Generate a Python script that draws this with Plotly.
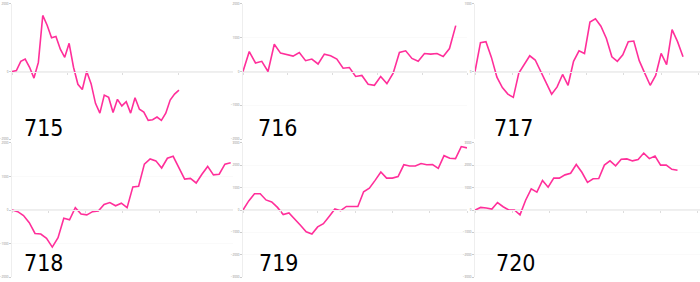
import plotly.graph_objects as go

W, H = 700, 282

# ---- data ----
labels = ["715", "716", "717", "718", "719", "720"]

s715 = [0, 30, 300, 370, 125, -195, 270, 1660, 1370, 1000, 1040, 660, 420, 835,
        126, -379, -534, 0, -359, -942, -1233, -699, -767, -1214, -825, -1020,
        -893, -1233, -777, -1117, -1204, -1447, -1427, -1350, -1447, -1233, -845,
        -670, -553]
s716 = [0, 592, 252, 301, 0, 806, 544, 495, 456, 563, 320, 369, 223, 515, 466,
        369, 97, 117, -146, -117, -379, -408, -146, -359, -49, 563, 612, 388,
        301, 534, 515, 534, 447, 680, 1359]
s717 = [0, 427, 442, 209, -83, -238, -335, -383, -24, 102, 233, 170, 5, -170,
        -335, -228, -44, -204, 150, 306, 267, 733, 782, 670, 490, 218, 150, 248,
        442, 451, 160, -24, -204, -58, 267, 102, 621, 442, 218]
s718 = [0, -49, -165, -379, -699, -718, -845, -1107, -825, -243, -291, 68, -117,
        -146, -49, -29, 165, 223, 126, 204, 68, 689, 709, 1369, 1525, 1466, 1253,
        1544, 1602, 1243, 922, 942, 806, 1068, 1301, 1049, 1068, 1369, 1408]
s719 = [0, 408, 728, 728, 451, 364, 117, -204, -131, -393, -684, -976, -1077,
        -757, -612, -291, 44, -29, 160, 160, 160, 815, 976, 1325, 1704, 1427,
        1427, 1500, 2024, 1966, 1966, 2082, 2024, 2038, 1864, 2432, 2315, 2301,
        2839, 2781]
s720 = [0, 116, 87, 44, 335, 146, 0, 0, -218, 437, 946, 801, 1325, 1019, 1427,
        1427, 1573, 1646, 2038, 1689, 1238, 1398, 1412, 2009, 2198, 1980, 2271,
        2286, 2198, 2257, 2548, 2300, 2417, 2009, 2009, 1820, 1776]
series = [s715, s716, s717, s718, s719, s720]

y_ticks = [[-2000, 0, 2000],
           [-2000, -1000, 0, 1000, 2000],
           [0, 1000],
           [-2000, -1000, 0, 1000, 2000],
           [-3000, -2000, -1000, 0, 1000, 2000, 3000],
           [-3000, -2000, -1000, 0, 1000, 2000, 3000]]

# ---- layout / style ----
y_half = [2000, 2000, 1000, 2000, 3000, 3000]
x_max = [50.3, 35.8, 41.1, 38.4, 39.0, 40.0]
x_dtick = [12.6, 7.16, 6.8, 6.42, 6.5, 6.6]

col_px = [(12, 233), (243, 467), (475, 700)]
row_px = [(2, 139), (143, 279)]
label_pos = [(22, 143), (256, 143), (492, 143), (22, 280), (257, 280), (494, 280)]

LINE = "#ff2f9a"

fig = go.Figure()
annotations = []
layout = {}
for i, ys in enumerate(series):
    r, c = divmod(i, 3)
    x0, x1 = col_px[c]
    top, bot = row_px[r]
    xd = [x0 / W, x1 / W]
    yd = [1 - bot / H, 1 - top / H]
    k = "" if i == 0 else str(i + 1)
    xs = list(range(len(ys)))
    fig.add_trace(go.Scatter(x=xs, y=ys, mode="lines",
                             line=dict(color=LINE, width=1.6),
                             xaxis="x" + k, yaxis="y" + k, showlegend=False,
                             hoverinfo="skip"))
    layout["xaxis" + k] = dict(domain=xd, range=[0, x_max[i]], anchor="free",
                               position=(yd[0] + yd[1]) / 2,
                               tickmode="linear", tick0=0, dtick=x_dtick[i],
                               ticks="outside", ticklen=2, tickcolor="#dddddd",
                               showticklabels=False, showgrid=False,
                               zeroline=False, showline=True,
                               linecolor="#f0f0f0", linewidth=1)
    layout["yaxis" + k] = dict(domain=yd, range=[-y_half[i], y_half[i]],
                               anchor="x" + k, tickmode="array",
                               tickvals=y_ticks[i],
                               ticks="outside", ticklen=2, tickcolor="#cccccc",
                               tickfont=dict(size=3, color="#888888"),
                               showgrid=True, gridcolor="#fafafa",
                               zeroline=True, zerolinecolor="#eeeeee",
                               showline=True, linecolor="#eeeeee", linewidth=1)
    lx, lb = label_pos[i]
    annotations.append(dict(text=labels[i], xref="paper", yref="paper",
                            x=lx / W, y=1 - lb / H, xanchor="left",
                            yanchor="bottom", showarrow=False,
                            font=dict(size=23, color="#000000",
                                      family="DejaVu Sans Condensed, DejaVu Sans")))

fig.update_layout(width=W, height=H, margin=dict(l=0, r=0, t=0, b=0),
                  paper_bgcolor="white", plot_bgcolor="white",
                  annotations=annotations, **layout)

fig.write_html("out.html")
